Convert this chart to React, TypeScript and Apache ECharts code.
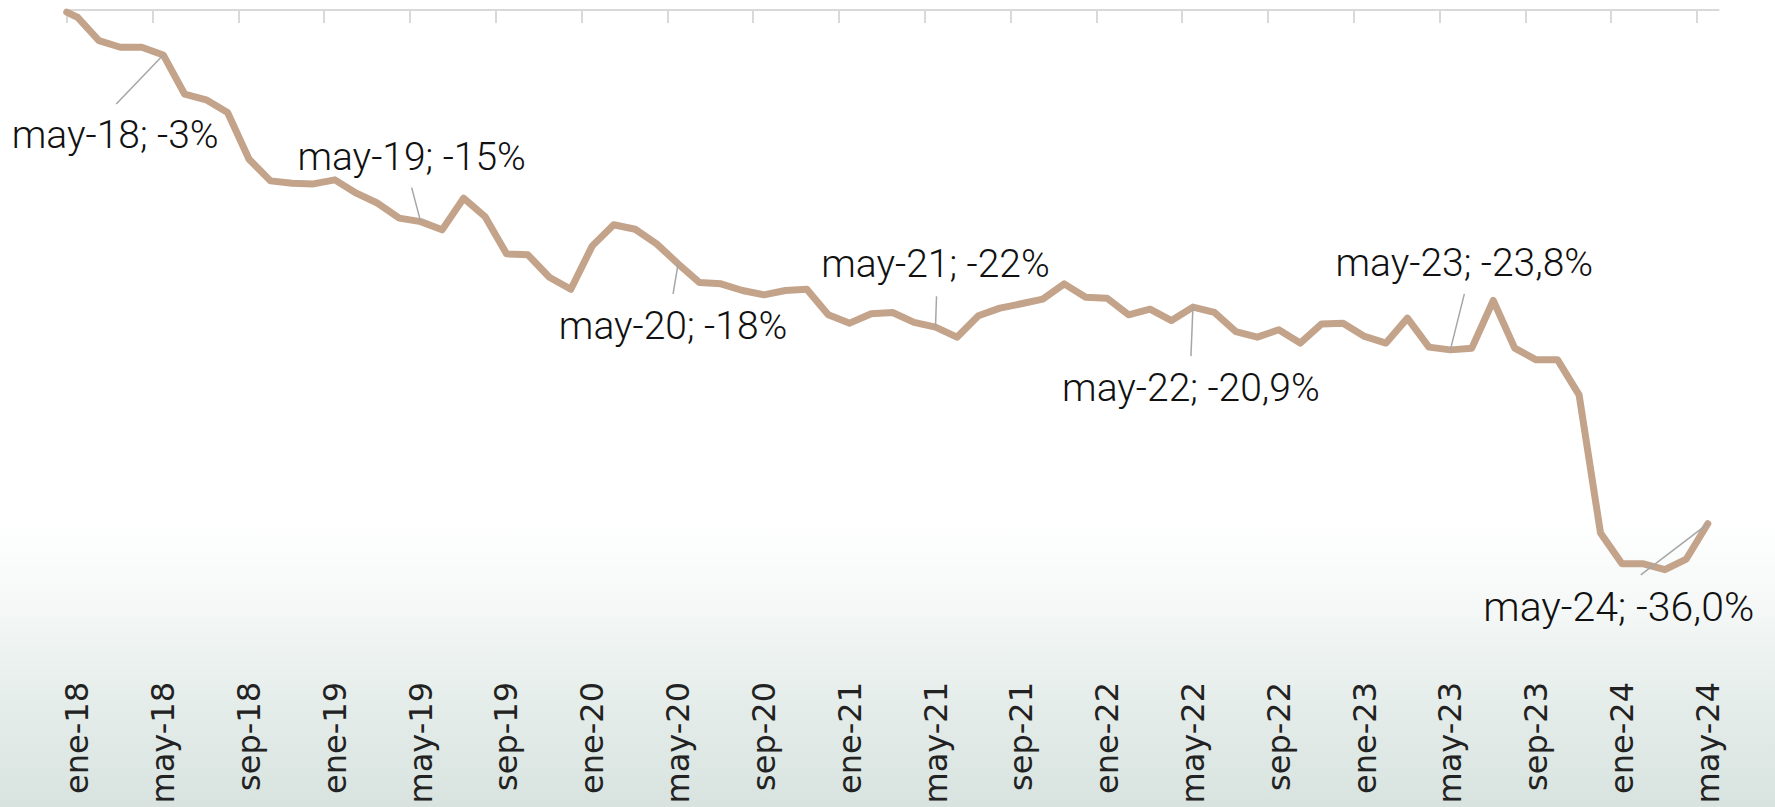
import React, { useEffect, useRef } from "react";
import * as echarts from "echarts";

// Tick labels (one every 4 months, ene-18 .. may-24)
const tickLabels = [
  "ene-18", "may-18", "sep-18",
  "ene-19", "may-19", "sep-19",
  "ene-20", "may-20", "sep-20",
  "ene-21", "may-21", "sep-21",
  "ene-22", "may-22", "sep-22",
  "ene-23", "may-23", "sep-23",
  "ene-24", "may-24",
];

// Monthly cumulative change (%), ene-18 .. may-24
const values = [
  -0.85, -2.47, -2.93, -2.93, -3.46, -6.18, -6.57, -7.45, -10.68, -12.18, -12.34, -12.39,
  -12.11, -13.03, -13.73, -14.76, -15.0, -15.57, -13.38, -14.65, -17.23, -17.3, -18.85, -19.68,
  -16.68, -15.22, -15.53, -16.54, -17.92, -19.22, -19.31, -19.77, -20.07, -19.77, -19.68, -21.45,
  -22.03, -21.38, -21.29, -21.98, -22.31, -23.0, -21.52, -20.99, -20.69, -20.37, -19.31, -20.23,
  -20.3, -21.45, -21.06, -21.85, -20.92, -21.29, -22.61, -23.0, -22.49, -23.41, -22.08, -22.03,
  -22.95, -23.41, -21.68, -23.69, -23.88, -23.76, -20.46, -23.76, -24.57, -24.57, -26.99, -36.56,
  -38.69, -38.69, -39.1, -38.36, -35.92,
];

// Value at the start of the period (line origin)
const startValue = -0.5;

// Annotated months (index into values) and their texts
const annotationMonths = [4, 16, 28, 40, 52, 64, 76];
const annotationTexts = [
  "may-18; -3%",
  "may-19; -15%",
  "may-20; -18%",
  "may-21; -22%",
  "may-22; -20,9%",
  "may-23; -23,8%",
  "may-24; -36,0%",
];

// Layout offsets (px) relative to the annotated point: leader start, text centre, font size
const annotationLayout = [
  { lead: [-47, 49], label: [-48, 80], size: 39 },
  { lead: [-9, -34], label: [-9, -65], size: 39 },
  { lead: [-5, 30], label: [-5, 62], size: 39 },
  { lead: [1, -31], label: [0, -63], size: 39 },
  { lead: [-2, 49], label: [-2, 81], size: 39 },
  { lead: [14, -56], label: [14, -87], size: 39 },
  { lead: [-67, 51], label: [-89, 83], size: 41 },
];

const MONTHS_SPAN = 77;

export default function App() {
  const ref = useRef<HTMLDivElement>(null);

  useEffect(() => {
    if (!ref.current) return;
    const chart = echarts.init(ref.current, null, { renderer: "svg" });

    const seriesData: number[][] = [[0, startValue]];
    values.forEach((v, i) => seriesData.push([i + 0.5, v]));

    const tickValues = tickLabels.map((_, k) => k * 4);
    const labelValues = tickLabels.map((_, k) => k * 4 + 0.5);

    const option: any = {
      animation: false,
      backgroundColor: "transparent",
      grid: { left: 66.7, right: 56.5, top: 10, height: 650, containLabel: false },
      xAxis: [
        {
          type: "value",
          position: "top",
          min: 0,
          max: MONTHS_SPAN,
          axisLine: { show: true, onZero: false, lineStyle: { color: "#d9d9d9", width: 2 } },
          axisTick: {
            show: true,
            inside: true,
            length: 13,
            customValues: tickValues,
            lineStyle: { color: "#d9d9d9", width: 2 },
          },
          axisLabel: { show: false },
          splitLine: { show: false },
        },
        {
          type: "value",
          position: "bottom",
          min: 0,
          max: MONTHS_SPAN,
          axisLine: { show: false },
          axisTick: { show: false },
          splitLine: { show: false },
          axisLabel: {
            show: true,
            rotate: 90,
            margin: 22,
            customValues: labelValues,
            formatter: (v: number) => {
              const k = Math.round((v - 0.5) / 4);
              return tickLabels[k] ?? "";
            },
            fontFamily: "DejaVu Sans",
            fontSize: 32,
            color: "#222222",
          },
        },
      ],
      yAxis: {
        type: "value",
        min: -45.35,
        max: -0.35,
        show: false,
        splitLine: { show: false },
      },
      series: [
        {
          type: "line",
          xAxisIndex: 0,
          yAxisIndex: 0,
          data: seriesData,
          symbol: "none",
          lineStyle: { color: "#c4a38b", width: 7, cap: "round", join: "round" },
          z: 2,
        },
      ],
    };

    chart.setOption(option);

    const graphics: any[] = [];
    annotationMonths.forEach((m, idx) => {
      const p = chart.convertToPixel({ xAxisIndex: 0, yAxisIndex: 0 }, [m + 0.5, values[m]]) as number[];
      const lay = annotationLayout[idx];
      graphics.push({
        type: "line",
        z: 100,
        shape: { x1: p[0] + lay.lead[0], y1: p[1] + lay.lead[1], x2: p[0], y2: p[1] },
        style: { stroke: "#a6a6a6", lineWidth: 1.5 },
      });
      graphics.push({
        type: "text",
        z: 100,
        x: p[0] + lay.label[0],
        y: p[1] + lay.label[1],
        style: {
          text: annotationTexts[idx],
          fill: "#111111",
          fontFamily: "'Roboto Light', Roboto, sans-serif",
          fontWeight: 300,
          fontSize: lay.size,
          align: "center",
          verticalAlign: "middle",
        },
      });
    });
    chart.setOption({ graphic: graphics });

    return () => chart.dispose();
  }, []);

  return (
    <div
      style={{
        position: "fixed",
        left: 0,
        top: 0,
        width: 1775,
        height: 807,
        background:
          "linear-gradient(to bottom, #ffffff 0%, #ffffff 64%, #f6f9f8 74%, #e5edea 87%, #d8e3e0 100%)",
      }}
    >
      <div ref={ref} style={{ width: 1775, height: 807 }} />
    </div>
  );
}
